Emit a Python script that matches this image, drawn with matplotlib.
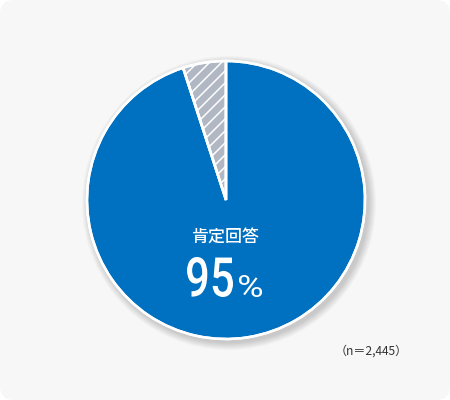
import matplotlib
matplotlib.use("Agg")
import numpy as np
import matplotlib.pyplot as plt
from matplotlib.patches import FancyBboxPatch, Circle, PathPatch
from matplotlib.textpath import TextPath
from matplotlib.font_manager import FontProperties
from matplotlib.transforms import Affine2D

plt.rcParams['font.family'] = ['Noto Sans CJK JP', 'DejaVu Sans']

# data
labels = ["その他", "肯定回答"]
values = [5, 95]
colors = ["#b1b8c4", "#0070c0"]
hatched = [True, False]
main_label = "肯定回答"
main_value = "95"
n_text = "（n＝2,445）"

W, H = 450, 400
fig = plt.figure(figsize=(W / 72, H / 72), dpi=72)
fig.patch.set_facecolor("white")
ax = fig.add_axes([0, 0, 1, 1])

# rounded card background
bg = FancyBboxPatch((0, 0), W, H, boxstyle="round,pad=0,rounding_size=14",
                    facecolor="#f7f7f7", edgecolor="none", zorder=0)
ax.add_patch(bg)

cx, cy, r = 226, 200, 139

# soft shadow
for i in range(8):
    ax.add_patch(Circle((cx + 3, cy - 3), r + 8 - i, facecolor="#000000",
                        alpha=0.025, edgecolor="none", zorder=1))

wedges, _ = ax.pie(values, colors=colors, startangle=90, counterclock=True,
                   center=(cx, cy), radius=r, frame=True,
                   wedgeprops=dict(edgecolor="white", linewidth=2.5))
for w, h in zip(wedges, hatched):
    w.set_zorder(2)
    if h:
        # diagonal white lines clipped to the wedge
        for c in np.arange(-400, 400, 12):
            xs = np.array([cx - r - 10, cx + r + 10])
            ln, = ax.plot(xs, xs + c, color="white", lw=1.5, zorder=2.5)
            ln.set_clip_path(w)
ax.set_xlim(0, W)
ax.set_ylim(0, H)
ax.set_aspect("equal")
ax.axis("off")

# redraw wedge edges above hatch lines
for w in wedges:
    ax.add_patch(PathPatch(w.get_path(), transform=w.get_transform(),
                           facecolor="none", edgecolor="white", lw=2.5, zorder=2.8))

ax.text(cx, 163, main_label, color="white", fontsize=17, ha="center",
        va="center", fontweight="medium", zorder=3)


def fit_text(s, box, props):
    tp = TextPath((0, 0), s, size=50, prop=props)
    bb = tp.get_extents()
    x0, y0, x1, y1 = box
    tr = (Affine2D().translate(-bb.x0, -bb.y0)
          .scale((x1 - x0) / bb.width, (y1 - y0) / bb.height)
          .translate(x0, y0))
    ax.add_patch(PathPatch(tr.transform_path(tp), facecolor="white",
                           edgecolor="none", zorder=3))


fit_text(main_value, (187, 103, 233, 143), FontProperties(family="Roboto", weight="medium"))
fit_text("%", (239, 103, 262, 125), FontProperties(family="Roboto", weight="normal"))

ax.text(371, 49, n_text, color="#333333", fontsize=12, ha="center",
        va="center", zorder=3)

fig.savefig("out.png", dpi=72, facecolor=fig.get_facecolor())
